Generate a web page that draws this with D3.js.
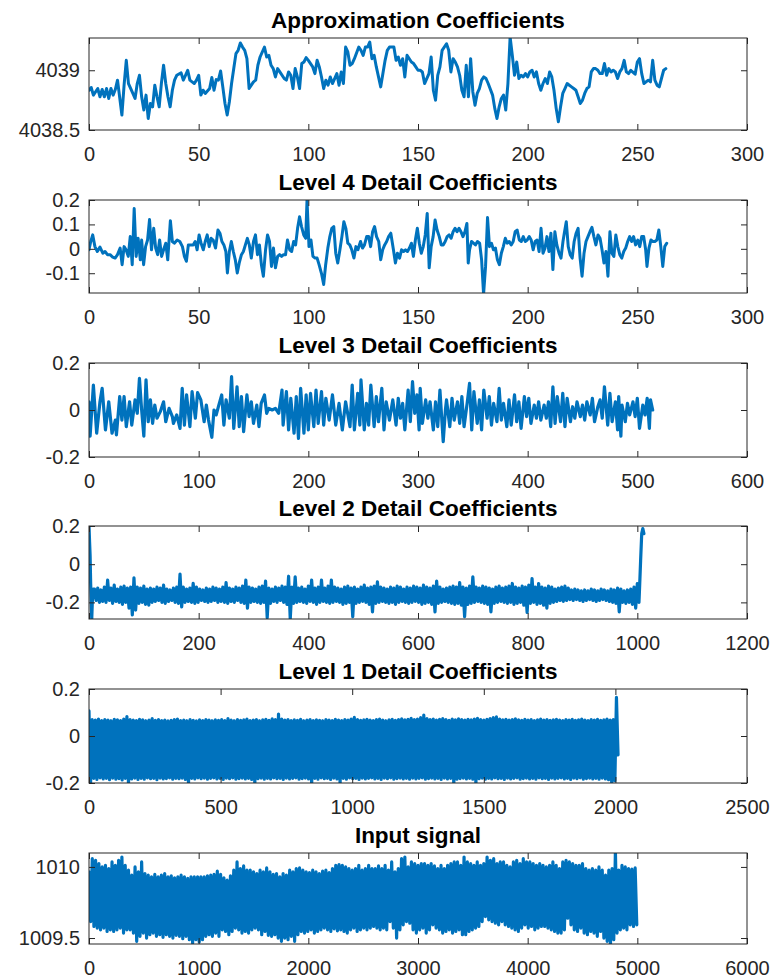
<!DOCTYPE html>
<html>
<head>
<meta charset="utf-8">
<script src="https://cdn.jsdelivr.net/npm/d3@7"></script>
<style>
  body { margin: 0; background: #fff; }
</style>
</head>
<body>
<svg id="chart" width="774" height="978"></svg>
<script>
// ---- data ----
const titles = ['Approximation Coefficients', 'Level 4 Detail Coefficients', 'Level 3 Detail Coefficients',
  'Level 2 Detail Coefficients', 'Level 1 Detail Coefficients', 'Input signal']

// approximation coefficients [index, value]
const approx = [[0,4038.833],[1,4038.856],[2,4038.792],[4,4038.847],[5,4038.778],[6,4038.839],[7,4038.778],[8,4038.847],[9,4038.764],[10,4038.847],
  [11,4038.792],[12,4038.839],[13,4038.917],[15,4038.625],[16,4038.875],[17,4039.083],[18,4038.889],[20,4038.806],[21,4038.764],[22,4038.889],
  [23,4038.958],[24,4038.778],[25,4038.667],[26,4038.792],[27,4038.597],[28,4038.722],[29,4038.694],[30,4038.875],[31,4038.778],[32,4038.694],
  [33,4038.889],[34,4039.042],[35,4038.889],[36,4038.778],[37,4038.694],[38,4038.833],[39,4038.917],[40,4038.958],[42,4038.978],[43,4038.917],
  [44,4038.958],[45,4039.0],[46,4038.917],[47,4038.903],[48,4038.889],[49,4038.917],[50,4038.958],[51,4038.792],[52,4038.833],[53,4038.806],
  [55,4038.847],[56,4038.939],[57,4038.833],[58,4038.922],[59,4038.917],[60,4038.994],[61,4038.861],[62,4038.722],[63,4038.625],[64,4038.736],
  [65,4038.889],[66,4039.014],[67,4039.139],[68,4039.167],[69,4039.228],[70,4039.194],[71,4039.167],[72,4039.097],[73,4038.847],[74,4038.875],
  [75,4038.903],[76,4038.917],[77,4039.042],[78,4039.111],[80,4039.194],[81,4039.111],[82,4039.125],[83,4039.042],[84,4039.014],[85,4038.944],
  [86,4039.014],[87,4038.986],[89,4038.931],[90,4038.917],[91,4038.986],[92,4038.958],[93,4038.847],[94,4039.014],[95,4038.944],[96,4038.847],
  [97,4039.056],[98,4039.069],[99,4039.106],[100,4039.083],[102,4039.028],[103,4038.972],[104,4039.083],[105,4039.028],[106,4038.944],[107,4038.847],
  [108,4038.917],[109,4038.875],[110,4038.944],[111,4038.889],[113,4038.972],[114,4038.875],[115,4038.986],[116,4038.889],[117,4039.194],[118,4039.153],
  [119,4039.042],[120,4039.056],[121,4039.097],[123,4039.194],[124,4039.167],[125,4039.125],[126,4039.194],[127,4039.194],[128,4039.236],[129,4039.097],
  [130,4039.125],[131,4039.028],[133,4038.861],[134,4038.972],[135,4039.083],[136,4039.167],[137,4039.194],[139,4039.194],[140,4039.083],[141,4039.111],
  [142,4039.042],[143,4039.097],[144,4038.944],[145,4039.125],[147,4039.069],[148,4039.056],[149,4039.028],[150,4039.0],[151,4039.0],[152,4038.986],
  [153,4038.889],[155,4038.972],[156,4039.111],[157,4038.833],[158,4038.75],[159,4038.958],[160,4039.028],[161,4039.167],[163,4039.222],[164,4039.167],
  [165,4038.986],[166,4039.097],[167,4039.069],[168,4039.028],[169,4038.958],[170,4038.833],[171,4038.778],[172,4039.042],[173,4038.778],[174,4039.097],
  [175,4038.819],[176,4038.708],[177,4038.806],[178,4038.847],[179,4038.917],[180,4038.944],[181,4038.931],[182,4038.889],[184,4038.792],[185,4038.681],
  [186,4038.597],[187,4038.694],[188,4038.764],[189,4038.792],[190,4038.667],[191,4038.889],[192,4039.278],[193,4039.125],[194,4038.958],[195,4039.069],
  [196,4038.931],[197,4038.958],[198,4038.944],[199,4038.972],[200,4038.944],[201,4038.986],[202,4039.0],[203,4038.944],[204,4038.986],[205,4038.889],
  [206,4038.833],[207,4038.889],[208,4038.931],[209,4038.889],[210,4038.986],[211,4038.944],[212,4038.833],[213,4038.681],[214,4038.569],[215,4038.694],
  [216,4038.806],[217,4038.847],[218,4038.889],[219,4038.875],[220,4038.861],[221,4038.847],[222,4038.833],[223,4038.778],[224,4038.722],[225,4038.75],
  [226,4038.806],[227,4038.847],[228,4038.861],[229,4038.986],[230,4039.014],[231,4039.014],[232,4039.0],[233,4038.972],[234,4038.972],[235,4039.056],
  [236,4038.958],[237,4039.014],[238,4038.986],[239,4039.0],[240,4038.986],[241,4038.931],[242,4038.986],[243,4039.014],[244,4039.083],[245,4038.986],
  [246,4038.972],[247,4039.0],[249,4038.967],[250,4039.069],[251,4039.097],[252,4038.972],[253,4038.889],[255,4038.917],[256,4038.903],[257,4039.083],
  [258,4038.917],[259,4038.875],[260,4038.861],[261,4038.931],[262,4039.0],[263,4039.014]]

// level 4 detail [index, value]
const level4 = [[0,-0.004],[0.8,0.03],[1.7,0.057],[2.7,0.009],[3.8,-0.011],[5,0.007],[6.3,-0.018],[7.3,-0.011],[8.4,-0.024],[9.6,-0.024],
  [10.8,-0.034],[11.9,-0.038],[13,-0.024],[14.2,0.003],[15.1,-0.065],[16,0.009],[16.9,-0.004],[17.9,-0.031],[18.8,0.05],[19.7,-0.065],
  [20.6,0.165],[21.5,-0.031],[22.4,0.043],[23.4,-0.045],[24,0.036],[24.9,-0.065],[25.8,0.009],[26.7,0.036],[27.6,0.12],[28.5,-0.004],
  [29.5,0.084],[30.4,0.003],[31.3,-0.024],[32.2,0.036],[33.1,-0.031],[34,-0.004],[35,0.023],[35.9,-0.045],[37.1,0.115],[38,0.03],
  [38.9,0.023],[40.2,0.036],[41.4,0.03],[42.6,0.009],[43.5,-0.031],[44.4,-0.051],[45.3,0.016],[46.3,0.016],[47.5,0.016],[48.4,0.03],
  [49.3,-0.004],[50.2,0.057],[51.1,0.023],[52.1,-0.004],[53,0.03],[53.9,0.057],[54.8,0.009],[55.7,0.043],[56.6,0.036],[57.7,0.003],
  [58.8,0.077],[59.7,0.064],[60.6,0.03],[61.5,0.016],[62.4,-0.011],[63.1,-0.099],[64,-0.011],[64.9,0.03],[65.8,-0.011],[66.7,-0.045],
  [67.6,-0.099],[68.5,-0.058],[69.5,-0.024],[70.4,-0.011],[71.3,0.016],[72.2,0.043],[73.1,0.016],[74,-0.038],[75,0.03],[75.9,0.057],
  [76.8,-0.024],[77.7,0.016],[78.6,-0.065],[79.5,-0.112],[80.5,-0.004],[81.4,0.057],[82.3,0.03],[83.2,-0.072],[84.1,0.003],[85,-0.078],
  [86,-0.031],[86.9,-0.024],[87.8,-0.031],[88.7,-0.024],[89.6,-0.024],[90.5,0.036],[91.5,-0.004],[92.4,-0.011],[93.3,0.03],[94.2,0.016],
  [95.1,0.084],[96,0.131],[96.9,0.091],[97.9,0.057],[98.8,0.043],[99.4,0.199],[100.3,0.009],[101.2,0.036],[102.1,-0.031],[103.1,-0.038],
  [104,-0.038],[104.9,-0.065],[106.1,-0.105],[107,-0.146],[107.9,-0.065],[108.9,0.003],[109.8,0.05],[110.7,0.084],[111.6,0.091],[112.5,-0.018],
  [113.4,-0.058],[114.4,-0.004],[115.3,0.05],[116.2,0.111],[117.1,0.084],[118,0.023],[118.9,0.016],[119.8,-0.004],[120.8,-0.038],[121.7,0.009],
  [122.6,-0.004],[123.8,0.03],[124.7,0.003],[125.6,0.016],[126.6,0.05],[127.5,0.05],[128.4,0.009],[129.3,0.07],[130.2,0.091],[131.1,0.05],
  [132.1,0.03],[133,-0.045],[133.9,-0.004],[134.8,0.016],[135.7,0.03],[136.6,0.05],[137.6,0.064],[138.8,-0.004],[139.7,-0.058],[140.6,-0.018],
  [141.6,-0.038],[142.5,-0.004],[143.4,-0.011],[144.3,-0.004],[145.2,-0.011],[146.1,0.003],[147,0.023],[147.9,-0.031],[148.8,0.036],[149.7,0.084],
  [150.6,0.023],[151.5,-0.018],[152.4,0.009],[153.3,0.057],[154.2,0.145],[155.1,-0.078],[156,0.009],[156.9,0.05],[157.8,0.118],[158.7,0.077],
  [159.7,0.05],[160.6,0.016],[161.5,0.016],[162.4,0.03],[163.3,0.05],[164.2,0.057],[165.1,0.043],[166,0.07],[166.9,0.084],[167.8,0.07],
  [168.7,0.084],[169.6,0.07],[170.5,0.05],[171.4,0.07],[172.3,0.104],[172.9,-0.058],[173.5,-0.004],[174.4,0.03],[175.3,0.023],[176.2,0.016],
  [177.1,0.03],[178.1,0.023],[179,-0.045],[179.9,-0.186],[180.8,-0.072],[181.7,0.128],[182.6,0.009],[183.5,0.023],[184.4,-0.004],[185.3,0.003],
  [186.2,-0.045],[187.1,-0.065],[188,-0.018],[188.9,0.009],[189.8,0.043],[190.7,0.023],[191.6,0.03],[192.5,0.016],[193.4,0.03],[194.3,0.07],
  [195.2,0.077],[196.2,0.036],[197.1,0.03],[198,0.05],[198.9,0.03],[199.8,0.036],[200.7,0.05],[201.6,0.036],[202.5,-0.004],[203.4,0.03],
  [204.3,0.036],[205.2,-0.011],[206.1,0.084],[207,-0.018],[207.9,0.003],[208.8,0.05],[209.7,-0.011],[210.6,0.064],[211.5,-0.085],[212.4,0.07],
  [213.3,0.016],[214.3,-0.018],[215.2,-0.038],[216.1,0.03],[216.7,0.064],[217.6,0.111],[218.5,0.009],[219.4,-0.024],[220.3,-0.038],[221.2,0.03],
  [222.1,0.064],[223,0.084],[223.9,-0.038],[224.8,-0.112],[225.7,-0.018],[226.6,0.03],[227.5,0.05],[228.4,0.07],[229.3,0.088],[230.2,0.05],
  [231.1,0.016],[232.1,0.057],[233,0.043],[233.9,-0.004],[234.8,-0.058],[235.7,-0.011],[236.6,-0.112],[237.5,0.07],[238.4,-0.018],[239.3,-0.031],
  [240.2,0.057],[241.1,0.009],[242,-0.024],[242.9,-0.038],[243.8,-0.011],[244.7,0.003],[245.6,0.03],[246.5,0.05],[247.4,0.03],[248.3,0.05],
  [249.2,0.016],[250.2,0.036],[251.1,0.009],[252,0.05],[252.9,0.05],[253.8,-0.004],[254.4,-0.072],[255.3,0.003],[256.2,0.036],[257.1,0.03],
  [258,0.03],[258.9,0.036],[259.8,0.077],[260.7,0.009],[261.6,-0.072],[262.5,0.009],[263.4,0.023]]

// level 3 detail [index, value]
const level3 = [[0,0.035],[1,-0.111],[4,0.106],[7,-0.099],[10,0.035],[12,0.092],[15,-0.085],[18,0.035],[21,-0.099],[24,-0.043],
  [25,-0.106],[28,0.057],[30,-0.043],[32,0.057],[34,-0.071],[37,0.035],[39,-0.064],[42,0.043],[44,-0.014],[46,0.135],
  [48,0],[50,-0.111],[52,0.128],[54,-0.05],[56,0.043],[58,-0.057],[60,0.021],[62,-0.035],[65,-0.007],[68,0.035],
  [70,-0.05],[73,0.007],[76,-0.028],[77,-0.057],[80,-0.021],[83,-0.078],[85,0.092],[87,-0.064],[89,0.064],[92,-0.071],
  [94,0.078],[97,-0.035],[99,0.074],[102,0.043],[105,-0.05],[107,0.021],[109,-0.043],[112,-0.116],[114,0],[116,-0.021],
  [118,0.014],[121,0.064],[123,-0.064],[125,0.043],[128,-0.035],[130,0.142],[132,-0.078],[135,0.099],[137,-0.071],[139,0.057],
  [141,-0.092],[144,0.064],[146,-0.028],[148,0.035],[150,-0.057],[153,0.021],[155,-0.071],[157,0.028],[160,0.064],[162,-0.014],
  [164,0.007],[167,0],[170,0.007],[173,-0.014],[176,0.085],[177,-0.064],[180,0.078],[182,-0.085],[184,0.05],[187,-0.099],
  [189,0.057],[191,-0.121],[193,0.092],[196,-0.099],[198,0.064],[200,-0.085],[202,0.071],[205,-0.071],[207,0.085],[209,-0.057],
  [212,0.078],[214,-0.064],[216,0.05],[219,-0.043],[222,0.064],[225,-0.064],[228,0.028],[231,-0.085],[234,0.035],[238,-0.071],
  [240,0.106],[242,-0.085],[245,0.071],[247,-0.064],[248,0.128],[251,-0.085],[253,0.028],[255,-0.064],[257,0.106],[260,-0.071],
  [262,0.057],[264,-0.05],[267,0.092],[269,-0.085],[271,0.035],[274,-0.043],[277,0.043],[280,-0.064],[282,0.05],[284,-0.035],
  [286,0.028],[288,-0.085],[291,0.085],[293,-0.05],[295,0.121],[297,-0.014],[299,0.064],[301,-0.085],[302,0.092],[304,-0.057],
  [307,0.043],[309,-0.035],[311,0.035],[314,-0.085],[316,0.035],[318,-0.071],[320,0.085],[323,-0.135],[325,0],[326,0.043],
  [329,-0.071],[331,0.05],[333,-0.043],[336,0.035],[338,-0.057],[340,0.057],[342,-0.071],[345,0.035],[347,0.113],[349,-0.085],
  [351,0.078],[354,-0.057],[356,0.043],[358,-0.085],[360,0.085],[363,-0.035],[365,0.057],[367,-0.064],[369,0.028],[372,-0.05],
  [374,0.092],[376,-0.043],[378,0.028],[381,-0.071],[383,0.043],[385,-0.064],[388,0.064],[390,-0.05],[392,0.035],[394,-0.078],
  [397,0.057],[399,-0.028],[401,0.05],[403,-0.057],[406,0.021],[408,-0.035],[410,0.035],[412,-0.043],[415,0.021],[417,-0.035],
  [419,0.035],[421,-0.071],[423,0.099],[425,-0.057],[427,0.057],[430,-0.05],[432,0.071],[434,-0.071],[436,0.05],[439,-0.05],
  [441,0.014],[443,-0.035],[445,0.035],[448,-0.028],[450,0.021],[452,-0.043],[454,0.035],[457,-0.021],[459,0.05],[461,-0.05],
  [464,0.014],[466,0.043],[468,-0.035],[470,0.099],[473,-0.064],[475,0.071],[477,-0.05],[480,0.035],[482,-0.085],[483,0.057],
  [485,-0.111],[486,0.021],[489,-0.05],[491,0.028],[493,-0.021],[496,0.035],[498,-0.028],[500,0.05],[502,-0.078],[505,0.021],
  [507,-0.021],[509,0.05],[511,-0.078],[512,0.043],[514,0]]

// level 2 detail: start transient, peak / trough envelope of the dense band, end transient
const level2Head = [[0,0.2],[1,0.12],[2,0.047],[3,-0.1],[5,-0.287],[6,-0.2],[8,-0.13]]
const level2Start = 10, level2Step = 6
const level2Upper = [-0.13,-0.125,-0.135,-0.12,-0.083,-0.125,-0.11,-0.13,-0.12,-0.115,
  -0.125,-0.12,-0.071,-0.12,-0.125,-0.115,-0.13,-0.125,-0.13,-0.12,
  -0.125,-0.11,-0.13,-0.135,-0.125,-0.12,-0.052,-0.12,-0.13,-0.125,
  -0.1,-0.12,-0.13,-0.135,-0.125,-0.13,-0.12,-0.125,-0.13,-0.12,
  -0.096,-0.125,-0.13,-0.12,-0.125,-0.115,-0.083,-0.12,-0.125,-0.13,
  -0.12,-0.115,-0.089,-0.125,-0.13,-0.12,-0.125,-0.115,-0.12,-0.063,
  -0.12,-0.066,-0.125,-0.12,-0.13,-0.115,-0.083,-0.125,-0.12,-0.083,
  -0.125,-0.115,-0.083,-0.12,-0.125,-0.13,-0.12,-0.115,-0.125,-0.12,
  -0.13,-0.12,-0.11,-0.125,-0.12,-0.115,-0.092,-0.12,-0.125,-0.13,
  -0.12,-0.125,-0.115,-0.12,-0.13,-0.12,-0.125,-0.115,-0.12,-0.125,
  -0.11,-0.12,-0.125,-0.115,-0.089,-0.12,-0.13,-0.125,-0.12,-0.115,
  -0.12,-0.096,-0.12,-0.125,-0.115,-0.066,-0.12,-0.125,-0.115,-0.12,
  -0.125,-0.13,-0.12,-0.115,-0.125,-0.12,-0.115,-0.101,-0.12,-0.125,
  -0.115,-0.12,-0.11,-0.075,-0.12,-0.101,-0.12,-0.125,-0.115,-0.12,
  -0.13,-0.125,-0.12,-0.115,-0.125,-0.135,-0.13,-0.135,-0.14,-0.135,
  -0.14,-0.13,-0.135,-0.14,-0.13,-0.135,-0.14,-0.13,-0.135,-0.125,
  -0.13,-0.14,-0.135,-0.13,-0.12,-0.101]
const level2Lower = [-0.19,-0.2,-0.195,-0.2,-0.19,-0.205,-0.195,-0.2,-0.21,-0.2,
  -0.23,-0.266,-0.24,-0.205,-0.2,-0.21,-0.214,-0.2,-0.195,-0.19,
  -0.2,-0.205,-0.195,-0.19,-0.2,-0.205,-0.224,-0.2,-0.195,-0.2,
  -0.205,-0.2,-0.19,-0.195,-0.2,-0.195,-0.19,-0.2,-0.195,-0.2,
  -0.205,-0.195,-0.2,-0.19,-0.2,-0.205,-0.23,-0.2,-0.195,-0.2,
  -0.205,-0.2,-0.28,-0.205,-0.195,-0.2,-0.19,-0.2,-0.21,-0.287,
  -0.205,-0.2,-0.195,-0.2,-0.205,-0.195,-0.2,-0.21,-0.2,-0.195,
  -0.2,-0.205,-0.2,-0.195,-0.2,-0.21,-0.205,-0.2,-0.275,-0.205,
  -0.2,-0.195,-0.2,-0.21,-0.25,-0.205,-0.2,-0.195,-0.2,-0.205,
  -0.2,-0.21,-0.2,-0.195,-0.2,-0.205,-0.2,-0.195,-0.2,-0.21,
  -0.205,-0.2,-0.21,-0.25,-0.205,-0.2,-0.195,-0.2,-0.205,-0.21,
  -0.205,-0.215,-0.275,-0.21,-0.205,-0.2,-0.195,-0.2,-0.205,-0.21,
  -0.25,-0.205,-0.2,-0.195,-0.2,-0.205,-0.2,-0.21,-0.205,-0.2,
  -0.215,-0.252,-0.205,-0.2,-0.21,-0.205,-0.215,-0.23,-0.205,-0.2,
  -0.195,-0.19,-0.195,-0.19,-0.185,-0.19,-0.185,-0.19,-0.195,-0.19,
  -0.185,-0.19,-0.195,-0.19,-0.185,-0.19,-0.195,-0.2,-0.205,-0.25,
  -0.2,-0.205,-0.2,-0.21,-0.23,-0.2]
const level2Tail = [[1004,-0.13],[1006,0.02],[1008,0.16],[1010,0.186],[1012,0.16]]

// level 1 detail: peak / trough envelope of the dense band
const level1Start = 0, level1Step = 12
const level1Upper = [0.107,0.07,0.068,0.072,0.066,0.07,0.068,0.065,0.071,0.069,
  0.066,0.072,0.083,0.07,0.068,0.066,0.071,0.069,0.065,0.068,
  0.074,0.067,0.07,0.066,0.068,0.064,0.067,0.07,0.072,0.066,
  0.068,0.065,0.07,0.067,0.064,0.069,0.066,0.07,0.068,0.065,
  0.069,0.067,0.07,0.066,0.074,0.068,0.065,0.07,0.067,0.069,
  0.072,0.066,0.068,0.07,0.065,0.069,0.071,0.067,0.073,0.07,
  0.093,0.072,0.068,0.07,0.066,0.069,0.067,0.071,0.065,0.068,
  0.07,0.066,0.069,0.067,0.065,0.07,0.068,0.066,0.071,0.068,
  0.066,0.07,0.068,0.072,0.079,0.07,0.067,0.069,0.071,0.068,
  0.066,0.07,0.072,0.068,0.065,0.069,0.071,0.067,0.07,0.073,
  0.069,0.071,0.075,0.07,0.072,0.078,0.089,0.074,0.07,0.072,
  0.068,0.071,0.074,0.07,0.067,0.072,0.069,0.073,0.07,0.068,
  0.071,0.069,0.072,0.075,0.07,0.068,0.071,0.074,0.078,0.081,
  0.072,0.069,0.071,0.068,0.07,0.073,0.069,0.067,0.071,0.068,
  0.07,0.066,0.069,0.072,0.068,0.07,0.067,0.069,0.071,0.068,
  0.066,0.07,0.068,0.071,0.067,0.069,0.072,0.068,0.066,0.07,
  0.068,0.071,0.067,0.069,0.072,0.068,0.07,0.164]
const level1Lower = [-0.2,-0.18,-0.185,-0.178,-0.183,-0.18,-0.186,-0.179,-0.184,-0.181,
  -0.187,-0.18,-0.205,-0.183,-0.179,-0.185,-0.18,-0.184,-0.178,-0.182,
  -0.18,-0.186,-0.179,-0.183,-0.181,-0.178,-0.184,-0.18,-0.182,-0.179,
  -0.185,-0.205,-0.18,-0.183,-0.178,-0.182,-0.179,-0.184,-0.18,-0.178,
  -0.183,-0.18,-0.185,-0.179,-0.182,-0.178,-0.184,-0.181,-0.179,-0.183,
  -0.18,-0.185,-0.205,-0.182,-0.179,-0.184,-0.18,-0.183,-0.178,-0.182,
  -0.18,-0.185,-0.179,-0.183,-0.18,-0.178,-0.184,-0.181,-0.179,-0.183,
  -0.205,-0.18,-0.184,-0.178,-0.182,-0.18,-0.185,-0.179,-0.183,-0.204,
  -0.18,-0.184,-0.178,-0.182,-0.18,-0.185,-0.179,-0.183,-0.18,-0.178,
  -0.183,-0.18,-0.185,-0.179,-0.182,-0.178,-0.184,-0.181,-0.179,-0.183,
  -0.18,-0.184,-0.179,-0.183,-0.18,-0.178,-0.184,-0.181,-0.179,-0.183,
  -0.18,-0.185,-0.179,-0.183,-0.18,-0.205,-0.184,-0.181,-0.179,-0.183,
  -0.18,-0.184,-0.205,-0.182,-0.179,-0.184,-0.18,-0.183,-0.178,-0.182,
  -0.18,-0.185,-0.179,-0.183,-0.18,-0.178,-0.184,-0.181,-0.179,-0.183,
  -0.18,-0.184,-0.178,-0.182,-0.18,-0.185,-0.179,-0.183,-0.18,-0.178,
  -0.183,-0.18,-0.185,-0.179,-0.182,-0.178,-0.184,-0.181,-0.179,-0.183,
  -0.18,-0.184,-0.179,-0.183,-0.186,-0.2,-0.19,-0.08]

// input signal: peak / trough envelope of the dense band
const inputStart = 0, inputStep = 30
const inputUpper = [1009.965,1010.058,1010.047,1010.023,1010.0,1010.012,1009.988,1010.035,1010.012,1010.047,
  1010.07,1010.012,1009.977,1009.942,1010.0,1009.965,1010.035,1009.953,1009.942,1009.93,
  1009.947,1009.93,1009.942,1009.953,1009.93,1009.937,1009.923,1009.93,1009.942,1009.93,
  1009.919,1009.93,1009.93,1009.93,1009.93,1009.93,1009.937,1009.942,1009.947,1009.97,
  1009.947,1009.923,1009.907,1009.937,1009.977,1010.035,1009.988,1010.007,1009.977,1009.977,
  1009.965,1009.953,1009.977,1009.965,1009.993,1009.965,1009.947,1009.953,1009.93,1009.953,
  1009.942,1009.977,1009.965,1009.988,1009.993,1009.977,1009.965,1009.96,1009.977,1009.965,
  1009.953,1009.97,1009.977,1009.96,1009.988,1010.012,1010.016,1010.012,1010.0,1009.988,
  1009.977,1009.988,1010.012,1009.977,1009.988,1010.012,1009.988,1009.988,1010.007,1009.988,
  1010.012,
  1009.977,1010.035,1009.965,1009.988,1010.058,1010.07,1010.0,1010.035,1010.023,1010.012,
  1010.023,1010.023,1010.012,1010.023,1010.007,1009.988,1010.012,1009.988,1010.012,1010.023,
  1010.035,1010.035,1010.012,1010.07,1010.035,1010.023,1010.012,1010.035,1010.012,1010.023,
  1010.07,1010.047,1010.058,1010.023,1010.035,1010.035,1010.012,1010.0,1010.035,1010.047,
  1010.023,1010.058,1010.035,1010.035,1010.023,1010.012,1010.023,1010.012,1010.0,1010.012,
  1010.035,1010.012,1009.988,1010.035,1010.047,1010.035,1010.023,1010.012,1010.012,1010.023,
  1009.988,1009.977,1009.988,1009.977,1010.0,1009.977,1009.942,1009.977,1009.988,
  1010.109,1009.977,1010.012,1010.0,1009.988,1009.984,1009.993]
const inputLower = [1009.616,1009.581,1009.57,1009.558,1009.57,1009.547,1009.558,1009.547,1009.558,1009.57,
  1009.535,1009.558,1009.558,1009.535,1009.477,1009.512,1009.535,1009.5,1009.523,1009.535,
  1009.512,1009.523,1009.505,1009.523,1009.512,1009.5,1009.519,1009.512,1009.495,1009.512,
  1009.488,1009.465,1009.488,1009.472,1009.488,1009.512,1009.523,1009.512,1009.535,1009.512,
  1009.558,1009.547,1009.523,1009.547,1009.57,1009.558,1009.535,1009.547,1009.535,1009.558,
  1009.57,1009.558,1009.523,1009.547,1009.519,1009.512,1009.523,1009.5,1009.477,1009.5,
  1009.488,1009.512,1009.477,1009.523,1009.547,1009.535,1009.547,1009.558,1009.535,1009.547,
  1009.558,1009.57,1009.558,1009.547,1009.565,1009.551,1009.558,1009.547,1009.535,1009.558,
  1009.57,1009.547,1009.558,1009.57,1009.558,1009.57,1009.581,1009.57,1009.558,1009.57,
  1009.558,
  1009.616,1009.57,1009.5,1009.558,1009.593,1009.616,1009.605,1009.558,1009.535,1009.558,
  1009.57,1009.535,1009.558,1009.593,1009.57,1009.558,1009.535,1009.547,1009.558,1009.535,
  1009.547,1009.558,1009.523,1009.523,1009.547,1009.558,1009.57,1009.581,1009.616,1009.651,
  1009.628,1009.616,1009.605,1009.593,1009.616,1009.593,1009.581,1009.57,1009.558,1009.547,
  1009.57,1009.593,1009.57,1009.581,1009.558,1009.57,1009.581,1009.581,1009.57,1009.558,
  1009.547,1009.535,1009.535,1009.558,1009.64,1009.593,1009.558,1009.547,1009.57,1009.535,
  1009.523,1009.547,1009.535,1009.512,1009.547,1009.5,1009.477,1009.453,1009.488,1009.535,
  1009.558,1009.57,1009.558,1009.593,1009.581,1009.593]

// tick values
const approxXTicks = [0, 50, 100, 150, 200, 250, 300]
const level3XTicks = [0, 100, 200, 300, 400, 500, 600]
const level2XTicks = [0, 200, 400, 600, 800, 1000, 1200]
const level1XTicks = [0, 500, 1000, 1500, 2000, 2500]
const inputXTicks = [0, 1000, 2000, 3000, 4000, 5000, 6000]
const approxYTicks = [4038.5, 4039]
const level4YTicks = [-0.1, 0, 0.1, 0.2]
const detailYTicks = [-0.2, 0, 0.2]
const inputYTicks = [1009.5, 1010]

// ---- build series ----
const interleave = (upper, lower, start, step) => {
  const pts = []
  const n = Math.min(upper.length, lower.length)
  for (let i = 0; i < n; i++) {
    pts.push([start + i * step, upper[i]])
    pts.push([start + i * step + step / 2, lower[i]])
  }
  return pts
}

const level2 = [...level2Head, ...interleave(level2Upper, level2Lower, level2Start, level2Step), ...level2Tail]
const level1 = interleave(level1Upper, level1Lower, level1Start, level1Step)
const input = interleave(inputUpper, inputLower, inputStart, inputStep)

// ---- layout ----
const svg = d3.select('#chart')
svg.append('rect').attr('width', 774).attr('height', 978).attr('fill', 'white')

const left = 89
const right = 747
const axisColor = '#262626'
const lineColor = '#0072BD'
const font = '"Liberation Sans", Arial, Helvetica, sans-serif'

const panels = [
  { title: titles[0], top: 38, bottom: 130, xMax: 300, xTicks: approxXTicks, yDomain: [4038.5, 4039.27], yTicks: approxYTicks, data: approx, width: 3 },
  { title: titles[1], top: 200, bottom: 293, xMax: 300, xTicks: approxXTicks, yDomain: [-0.181, 0.2], yTicks: level4YTicks, data: level4, width: 3 },
  { title: titles[2], top: 363, bottom: 457, xMax: 600, xTicks: level3XTicks, yDomain: [-0.2, 0.2], yTicks: detailYTicks, data: level3, width: 3.2 },
  { title: titles[3], top: 526, bottom: 619, xMax: 1200, xTicks: level2XTicks, yDomain: [-0.287, 0.2], yTicks: detailYTicks, data: level2, width: 3.2 },
  { title: titles[4], top: 689, bottom: 783, xMax: 2500, xTicks: level1XTicks, yDomain: [-0.2, 0.2], yTicks: detailYTicks, data: level1, width: 3.2 },
  { title: titles[5], top: 853, bottom: 944, xMax: 6000, xTicks: inputXTicks, yDomain: [1009.458, 1010.098], yTicks: inputYTicks, data: input, width: 3.2 }
]

const styleAxis = sel => {
  sel.select('.domain').remove()
  sel.attr('font-size', 20).attr('font-family', font).attr('color', axisColor)
  sel.selectAll('.tick line').attr('stroke-width', 1)
}

panels.forEach((p, i) => {
  const x = d3.scaleLinear().domain([0, p.xMax]).range([left, right])
  const y = d3.scaleLinear().domain(p.yDomain).range([p.bottom, p.top])
  const g = svg.append('g')

  g.append('clipPath').attr('id', 'clip' + i)
    .append('rect')
      .attr('x', left).attr('y', p.top)
      .attr('width', right - left).attr('height', p.bottom - p.top)

  const line = d3.line().x(d => x(d[0])).y(d => y(d[1]))

  g.append('path')
    .datum(p.data)
    .attr('clip-path', `url(#clip${i})`)
    .attr('d', line)
    .attr('fill', 'none')
    .attr('stroke', lineColor)
    .attr('stroke-width', p.width)
    .attr('stroke-linejoin', 'round')
    .attr('stroke-linecap', 'round')

  // axes with inward ticks on all four sides
  g.append('g')
    .attr('transform', `translate(0, ${p.bottom})`)
    .call(d3.axisBottom(x).tickValues(p.xTicks).tickFormat(d => String(d)).tickSizeInner(-6).tickSizeOuter(0).tickPadding(17))
    .call(styleAxis)
  g.append('g')
    .attr('transform', `translate(0, ${p.top})`)
    .call(d3.axisTop(x).tickValues(p.xTicks).tickFormat(() => '').tickSizeInner(-6).tickSizeOuter(0))
    .call(styleAxis)
  g.append('g')
    .attr('transform', `translate(${left}, 0)`)
    .call(d3.axisLeft(y).tickValues(p.yTicks).tickFormat(d => String(d)).tickSizeInner(-6).tickSizeOuter(0).tickPadding(9))
    .call(styleAxis)
  g.append('g')
    .attr('transform', `translate(${right}, 0)`)
    .call(d3.axisRight(y).tickValues(p.yTicks).tickFormat(() => '').tickSizeInner(-6).tickSizeOuter(0))
    .call(styleAxis)

  g.append('rect')
    .attr('x', left).attr('y', p.top)
    .attr('width', right - left).attr('height', p.bottom - p.top)
    .attr('fill', 'none')
    .attr('stroke', axisColor)
    .attr('stroke-width', 1)

  g.append('text')
    .attr('x', (left + right) / 2)
    .attr('y', p.top - 10)
    .attr('text-anchor', 'middle')
    .attr('font-family', font)
    .attr('font-size', 22.5)
    .attr('font-weight', 'bold')
    .attr('fill', '#000')
    .text(p.title)
})
</script>
</body>
</html>
